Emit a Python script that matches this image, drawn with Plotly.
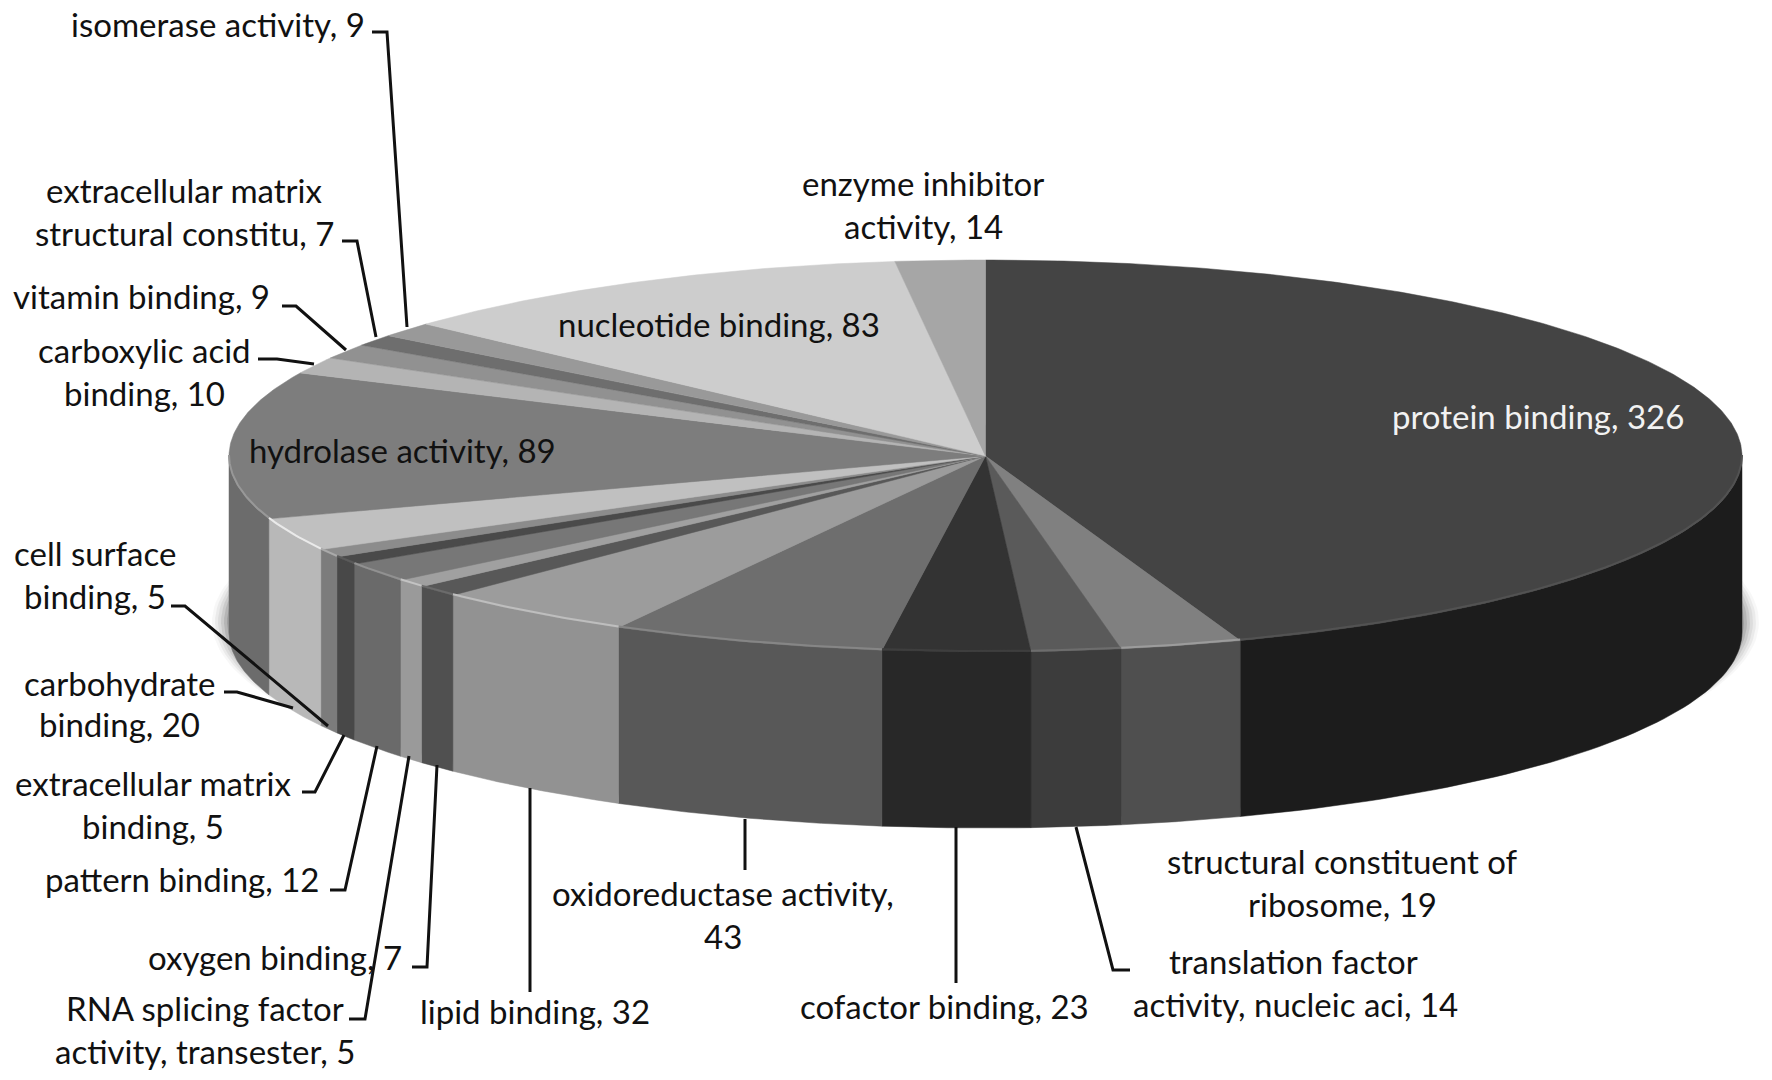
import numpy as np
import plotly.graph_objects as go

# ---------- data (clockwise from 12 o'clock) ----------
categories = ["protein binding", "structural constituent of ribosome",
              "translation factor activity, nucleic aci", "cofactor binding",
              "oxidoreductase activity", "lipid binding", "oxygen binding",
              "RNA splicing factor activity, transester", "pattern binding",
              "extracellular matrix binding", "cell surface binding",
              "carbohydrate binding", "hydrolase activity", "carboxylic acid binding",
              "vitamin binding", "extracellular matrix structural constitu",
              "isomerase activity", "nucleotide binding", "enzyme inhibitor activity"]
values = [326, 19, 14, 23, 43, 32, 7, 5, 12, 5, 5, 20, 89, 10, 9, 7, 9, 83, 14]
top_colors = ["#444444", "#808080", "#5a5a5a", "#333333", "#6e6e6e", "#9c9c9c", "#585858",
              "#a0a0a0", "#777777", "#4a4a4a", "#8c8c8c", "#c0c0c0", "#7d7d7d", "#b4b4b4",
              "#919191", "#6e6e6e", "#999999", "#cdcdcd", "#a6a6a6"]
side_colors = ["#1c1c1c", "#4f4f4f", "#3c3c3c", "#282828", "#585858", "#929292", "#505050",
               "#9a9a9a", "#6a6a6a", "#484848", "#7c7c7c", "#b8b8b8", "#6c6c6c", "#a0a0a0",
               "#808080", "#606060", "#888888", "#b8b8b8", "#909090"]

# ---------- geometry of the pie, in page pixels ----------
CX, CY, RX, RY, DEPTH = 985.5, 456.0, 756.5, 196.0, 176.0

# ---------- label layout: text lines, colour, centre in the 1568-wide view ----------
S = 1772 / 1568
label_lines = [
    ("isomerase activity, 9", 192.5, 21), ("extracellular matrix", 163, 168),
    ("structural constitu, 7", 163, 206), ("vitamin binding, 9", 125, 262),
    ("carboxylic acid", 128, 310), ("binding, 10", 128, 348),
    ("hydrolase activity, 89", 356, 398), ("nucleotide binding, 83", 636, 287),
    ("enzyme inhibitor", 817, 162), ("activity, 14", 817, 200),
    ("cell surface", 84, 489), ("binding, 5", 84, 527),
    ("carbohydrate", 106, 604), ("binding, 20", 106, 641),
    ("extracellular matrix", 136, 693), ("binding, 5", 135, 731),
    ("pattern binding, 12", 161, 778), ("oxygen binding, 7", 243, 847),
    ("RNA splicing factor", 181, 892), ("activity, transester, 5", 181, 930),
    ("lipid binding, 32", 473, 895), ("oxidoreductase activity,", 640, 790),
    ("43", 640, 828), ("cofactor binding, 23", 836, 890),
    ("translation factor", 1145, 850), ("activity, nucleic aci, 14", 1146, 888),
    ("structural constituent of", 1188, 762), ("ribosome, 19", 1188, 800),
]
white_label = ("protein binding, 326", 1361, 368)

# leader lines, page pixels
leaders = [
    [(372, 32), (387, 32), (407, 327)], [(342, 241), (357, 241), (376, 337)],
    [(282, 306), (296, 306), (346, 350)], [(258, 359), (277, 359), (314, 364)],
    [(171, 606), (185, 606), (328, 726)], [(224, 692), (237, 692), (293, 708)],
    [(302, 792), (315, 792), (344, 735)], [(330, 890), (345, 890), (377, 746)],
    [(412, 967), (427, 967), (437, 765)], [(349, 1019), (365, 1019), (409, 756)],
    [(530, 788), (530, 992)], [(745, 819), (745, 870)], [(956, 827), (956, 983)],
    [(1076, 827), (1113, 970), (1130, 970)],
]
FONT = "Lato"
FONT_SIZE = 33


def lighten(hex_color):
    v = [int(hex_color[i:i + 2], 16) for i in (1, 3, 5)]
    amount = int(v[0] * 0.22)
    return "#%02x%02x%02x" % tuple(min(255, c + amount) for c in v)


def rim(a0, a1, n=60):
    t = np.radians(np.linspace(a0, a1, max(n, 2)))
    return CX + RX * np.sin(t), CY - RY * np.cos(t)


fig = go.Figure()

# soft shadow behind the lower part of the pie
t = np.linspace(0, 2 * np.pi, 240)
for grow, alpha in [(17, .03), (14, .05), (11, .06), (8, .08), (5, .10), (2, .12)]:
    fig.add_trace(go.Scatter(
        x=CX + (RX + grow) * np.sin(t), y=CY + DEPTH - 10 - RY * np.cos(t) * (1 + 0.2 * grow / RY),
        mode="lines", fill="toself", line=dict(width=0),
        fillcolor=f"rgba(0,0,0,{alpha})", hoverinfo="skip", showlegend=False))

edges = np.concatenate([[0], np.cumsum(values)]) / np.sum(values) * 360

# side wall, only the part of each slice that faces the viewer
for name, a0, a1, col in zip(categories, edges[:-1], edges[1:], side_colors):
    lo, hi = max(a0, 90), min(a1, 270)
    if hi <= lo:
        continue
    x, y = rim(lo, hi)
    fig.add_trace(go.Scatter(
        x=np.concatenate([x, x[::-1], x[:1]]),
        y=np.concatenate([y, y[::-1] + DEPTH, y[:1]]),
        mode="lines", fill="toself", fillcolor=col, line=dict(color=col, width=0.5),
        name=name, hoverinfo="name", showlegend=False))

# top face
for name, val, a0, a1, col in zip(categories, values, edges[:-1], edges[1:], top_colors):
    x, y = rim(a0, a1, int(a1 - a0) * 2 + 4)
    fig.add_trace(go.Scatter(
        x=np.concatenate([[CX], x, [CX]]), y=np.concatenate([[CY], y, [CY]]),
        mode="lines", fill="toself", fillcolor=col, line=dict(color=col, width=0.5),
        name=f"{name}, {val}", hoverinfo="name", showlegend=False))

# bevel highlight on the front rim
for a0, a1, col in zip(edges[:-1], edges[1:], top_colors):
    lo, hi = max(a0, 90), min(a1, 270)
    if hi <= lo:
        continue
    x, y = rim(lo, hi, int(hi - lo) * 2 + 4)
    fig.add_trace(go.Scatter(x=x, y=y - 1, mode="lines",
                             line=dict(color=lighten(col), width=2),
                             hoverinfo="skip", showlegend=False))

# leader lines
for pts in leaders:
    fig.add_trace(go.Scatter(x=[p[0] for p in pts], y=[p[1] for p in pts], mode="lines",
                             line=dict(color="#111111", width=3),
                             hoverinfo="skip", showlegend=False))

annotations = [dict(x=px * S, y=py * S, text=txt, showarrow=False, xref="x", yref="y",
                    xanchor="center", yanchor="middle",
                    font=dict(family=FONT, size=FONT_SIZE, color="#111111"))
               for txt, px, py in label_lines]
annotations.append(dict(x=white_label[1] * S, y=white_label[2] * S, text=white_label[0],
                        showarrow=False, xref="x", yref="y", xanchor="center", yanchor="middle",
                        font=dict(family=FONT, size=FONT_SIZE, color="#f2f2f2")))

fig.update_layout(
    width=1772, height=1080, margin=dict(l=0, r=0, t=0, b=0),
    paper_bgcolor="white", plot_bgcolor="white", showlegend=False,
    annotations=annotations,
    xaxis=dict(range=[0, 1772], visible=False, fixedrange=True),
    yaxis=dict(range=[1080, 0], visible=False, fixedrange=True),
)
fig.write_html("out.html", post_script="document.body.style.margin='0';",
               config=dict(displayModeBar=False))
